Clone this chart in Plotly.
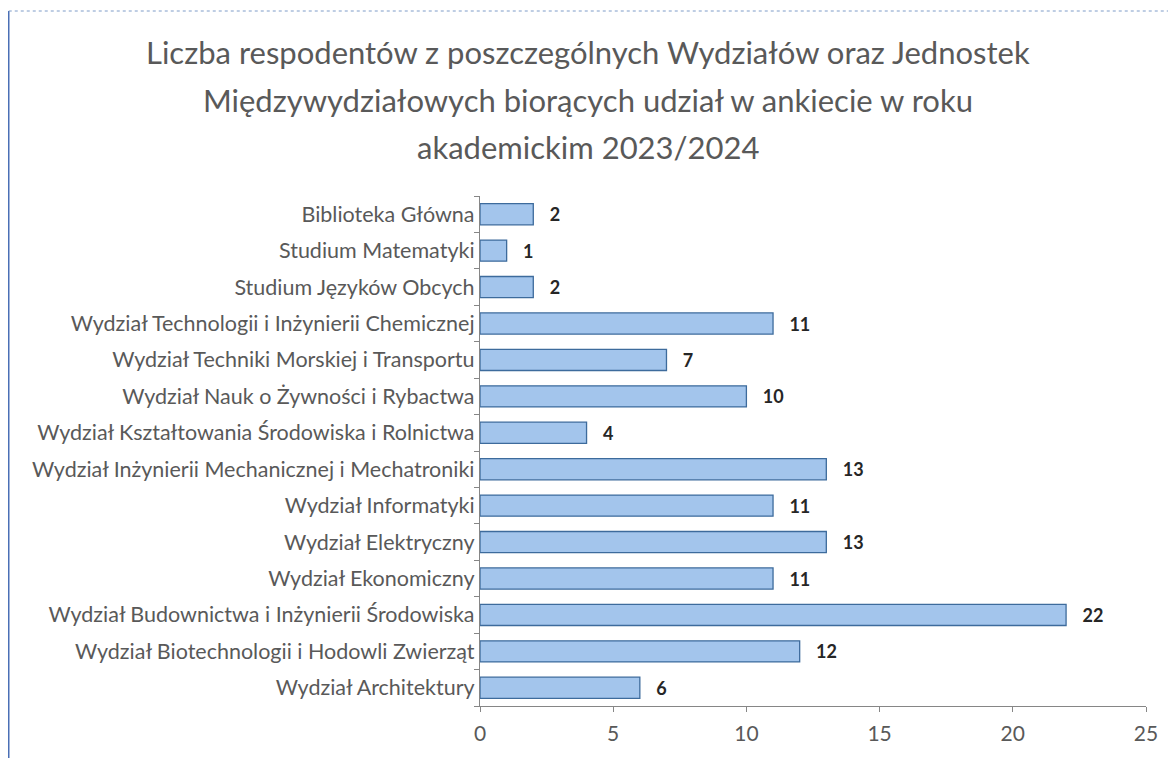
import plotly.graph_objects as go

categories = [
    "Wydział Architektury",
    "Wydział Biotechnologii i Hodowli Zwierząt",
    "Wydział Budownictwa i Inżynierii Środowiska",
    "Wydział Ekonomiczny",
    "Wydział Elektryczny",
    "Wydział Informatyki",
    "Wydział Inżynierii Mechanicznej i Mechatroniki",
    "Wydział Kształtowania Środowiska i Rolnictwa",
    "Wydział Nauk o Żywności i Rybactwa",
    "Wydział Techniki Morskiej i Transportu",
    "Wydział Technologii i Inżynierii Chemicznej",
    "Studium Języków Obcych",
    "Studium Matematyki",
    "Biblioteka Główna",
]
values = [6, 12, 22, 11, 13, 11, 13, 4, 10, 7, 11, 2, 1, 2]
x_ticks = [0, 5, 10, 15, 20, 25]

title_lines = [
    "Liczba respodentów z poszczególnych Wydziałów oraz Jednostek",
    "Międzywydziałowych biorących udział w ankiecie w roku",
    "akademickim 2023/2024",
]

FONT = "Lato, 'Open Sans', sans-serif"

W, H = 1176, 758
L, T = 472, 188
PW, PH = 666, 510
R = W - L - PW
B = H - T - PH


def px_to_paper_y(py):
    return (T + PH - py) / PH


def px_to_paper_x(px):
    return (px - L) / PW


fig = go.Figure(go.Bar(
    x=values, y=categories, orientation="h",
    marker=dict(color="#a3c5ec", line=dict(color="#3d6b9c", width=1.3)),
    width=0.58,
    text=["\u2002\u00a0" + str(v) for v in values], textposition="outside",
    constraintext="none",
    textfont=dict(size=18, color="#262626", family=FONT, weight="bold"),
    cliponaxis=False,
))

annotations = []
for i, line in enumerate(title_lines):
    annotations.append(dict(
        text=line, xref="paper", yref="paper",
        x=px_to_paper_x(580), y=px_to_paper_y([44, 92, 139][i]),
        xanchor="center", yanchor="middle", showarrow=False,
        font=dict(size=31, color="#595959", family=FONT),
    ))

fig.update_layout(
    width=W, height=H,
    paper_bgcolor="white", plot_bgcolor="white",
    margin=dict(l=L, r=R, t=T, b=B),
    font=dict(family=FONT, color="#595959"),
    showlegend=False,
    annotations=annotations,
    xaxis=dict(range=[0, 25], tickvals=x_ticks, showgrid=False, zeroline=False,
               showline=True, linecolor="#868686", linewidth=1.3,
               ticks="outside", ticklen=5, tickcolor="#868686", ticklabelstandoff=4,
               tickfont=dict(size=21, color="#595959"), fixedrange=True),
    yaxis=dict(range=[-0.5, 13.5], showgrid=False, zeroline=False,
               showline=True, linecolor="#868686", linewidth=1.3,
               ticks="outside", ticklen=5, tickcolor="#868686", tickson="boundaries",
               tickfont=dict(size=21.5, color="#595959"), fixedrange=True),
    shapes=[
        dict(type="line", xref="paper", yref="paper",
             x0=px_to_paper_x(0.75), x1=px_to_paper_x(0.75),
             y0=px_to_paper_y(H), y1=px_to_paper_y(3),
             line=dict(color="#4a6fb5", width=1.5)),
        dict(type="line", xref="paper", yref="paper",
             x0=px_to_paper_x(0.75), x1=px_to_paper_x(W),
             y0=px_to_paper_y(3), y1=px_to_paper_y(3),
             line=dict(color="#7f9cc8", width=1, dash="dot")),
    ],
)

fig.write_html("out.html")
